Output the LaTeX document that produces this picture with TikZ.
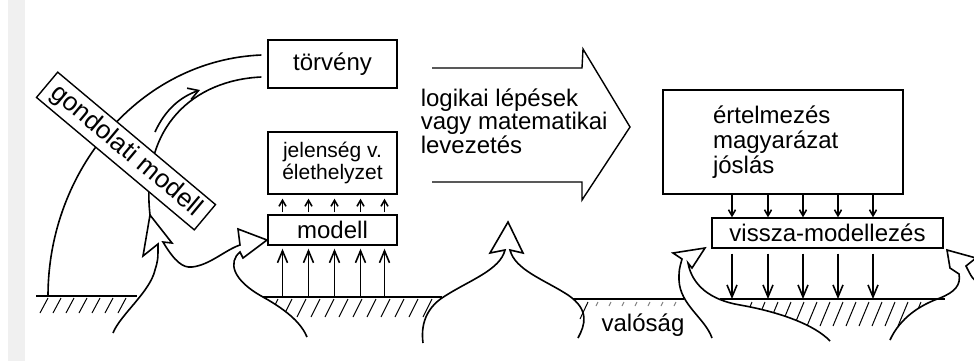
\documentclass[tikz,border=0pt]{standalone}
\usepackage{fontspec}
\setmainfont{Liberation Sans}
\usetikzlibrary{arrows.meta,calc}

\begin{document}
\begin{tikzpicture}[x=0.5pt,y=-0.5pt,line width=0.8pt,
  box/.style={draw,line width=0.7pt,fill=white,inner sep=0pt,font=\fontsize{12}{13}\selectfont},
  lbl/.style={inner sep=0pt,font=\fontsize{12}{13}\selectfont},
  bigar/.style={-{Straight Barb[length=6pt,width=5pt]}},
  midar/.style={-{Straight Barb[length=5pt,width=6pt]}},
  smallar/.style={-{Straight Barb[length=3pt,width=3.5pt]}},
  hatch/.style={line width=0.5pt}]

\useasboundingbox (0,0) rectangle (974,361);
\clip (0,0) rectangle (974,361);
\fill[black!6] (8,0) rectangle (25,361);

\node[box,minimum width=64.5pt,minimum height=24pt] (tv) at (332.5,64) {törvény};
\node[box,minimum width=64.5pt,minimum height=31pt,align=center,font=\fontsize{10.5}{11}\selectfont] (jel) at (332.5,163) {jelenség v.\\élethelyzet};
\node[box,minimum width=64.5pt,minimum height=15pt] (modell) at (332.5,230) {modell};
\node[box,minimum width=120pt,minimum height=52pt,text width=70pt,inner xsep=25pt,align=left,font=\fontsize{12}{12.5}\selectfont] (ert) at (783,142) {értelmezés\\magyarázat\\jóslás};
\node[box,minimum width=115.5pt,minimum height=15pt] (vissza) at (827.5,233) {vissza-modellezés};

\coordinate (tip1) at (150,215);
\coordinate (g2) at (263,297);
\coordinate (g4) at (720,299);

\draw (48,296) .. controls (48,170) and (140,60) .. ($(tv.west)+(-6,-9)$);
\draw ($(tv.west)+(-6,13)$) .. controls (195,80) and (140,125) .. (tip1);
\draw[midar] (155,132) .. controls (165,110) and (180,97) .. (200,90);

\node[box,rotate=-40,minimum width=103pt,minimum height=16.5pt,font=\fontsize{13}{14}\selectfont] (gond) at (126,151) {gondolati modell};

\draw[line width=0.7pt] (432,68) -- (582,68) -- (583,49) -- (630,127) -- (582,200) -- (582,182) -- (432,182);
\node[lbl,anchor=west,align=left,font=\fontsize{12}{11.7}\selectfont] (logic) at (420,121) {logikai lépések\\vagy matematikai\\levezetés};

\draw (113,333) .. controls (120,315) and (150,292) .. (155,270) .. controls (158,260) .. (158,244) -- (143,256) -- (tip1) -- (172,243) -- (163,242) .. controls (175,262) and (183,268) .. (192,267) .. controls (210,265) and (225,250) .. (240,245) -- (238,229) -- (267,240) -- (243,258) -- (240,252) .. controls (228,262) and (232,280) .. (g2) .. controls (290,312) and (302,325) .. (307,337);
\draw (423,343) .. controls (420,320) and (430,305) .. (445,296) .. controls (470,280) and (500,270) .. (505,250) -- (490,253) -- (508,222) -- (523,253) -- (510,250) .. controls (515,270) and (545,280) .. (568,295) .. controls (590,310) and (585,325) .. (578,338);
\draw (712,338) .. controls (705,318) and (680,305) .. (679,280) .. controls (679,270) .. (682,259) -- (673,253) -- (705,248) -- (692,268) -- (688,263) .. controls (692,285) and (710,300) .. (740,305) .. controls (780,312) and (815,325) .. (830,341);
\draw (890,340) .. controls (900,318) and (920,305) .. (940,298) .. controls (955,292) and (961,285) .. (959,274) -- (950,268) -- (947,250) -- (976,258) -- (966,266) .. controls (972,278) .. (980,285);

\draw (36,296) -- (137,296);
\draw (g2) -- (442,297);
\draw (573,299) -- (684,299);
\draw (g4) -- (945,299);

\foreach \x in {48,61,...,126} \draw[hatch] (\x,298) -- ++(-8,15);
\begin{scope}
  \clip (g2) .. controls (290,312) and (302,325) .. (307,337) -- (423,343) .. controls (420,320) and (430,305) .. (445,296) -- cycle;
  \foreach \x in {278,292,...,432} \draw[hatch] (\x,299) -- ++(-9,18);
\end{scope}
\foreach \x in {598,611,...,676} \draw[hatch,gray] (\x,302) -- ++(-2,4);
\draw[hatch] (588,302) -- (580,319);
\begin{scope}
  \clip (717,300) -- (740,305) .. controls (780,312) and (815,325) .. (830,341) -- (890,340) .. controls (900,318) and (920,305) .. (940,298) -- cycle;
  \foreach \x in {752,765,...,940} \draw[hatch] (\x,302) -- ++(-10,24);
\end{scope}

\node[lbl] (val) at (643,325) {valóság};

\foreach \dx in {-50,-24,2,28,52}{
  \path ($(modell.south)+(\dx,0)$) coordinate (a);
  \draw[smallar] ($(a |- modell.north)+(0,-2)$) -- ($(a |- jel.south)+(0,4)$);
  \draw[bigar] ($(a |- g2)+(0,-1)$) -- ($(a |- modell.south)+(0,3)$);
}
\foreach \dx in {-51,-15,20,55,90}{
  \path ($(ert.south)+(\dx,0)$) coordinate (b);
  \draw[smallar] (b) -- (b |- vissza.north);
  \draw[bigar] ($(b |- vissza.south)+(0,5)$) -- (b |- g4);
}
\end{tikzpicture}
\end{document}
